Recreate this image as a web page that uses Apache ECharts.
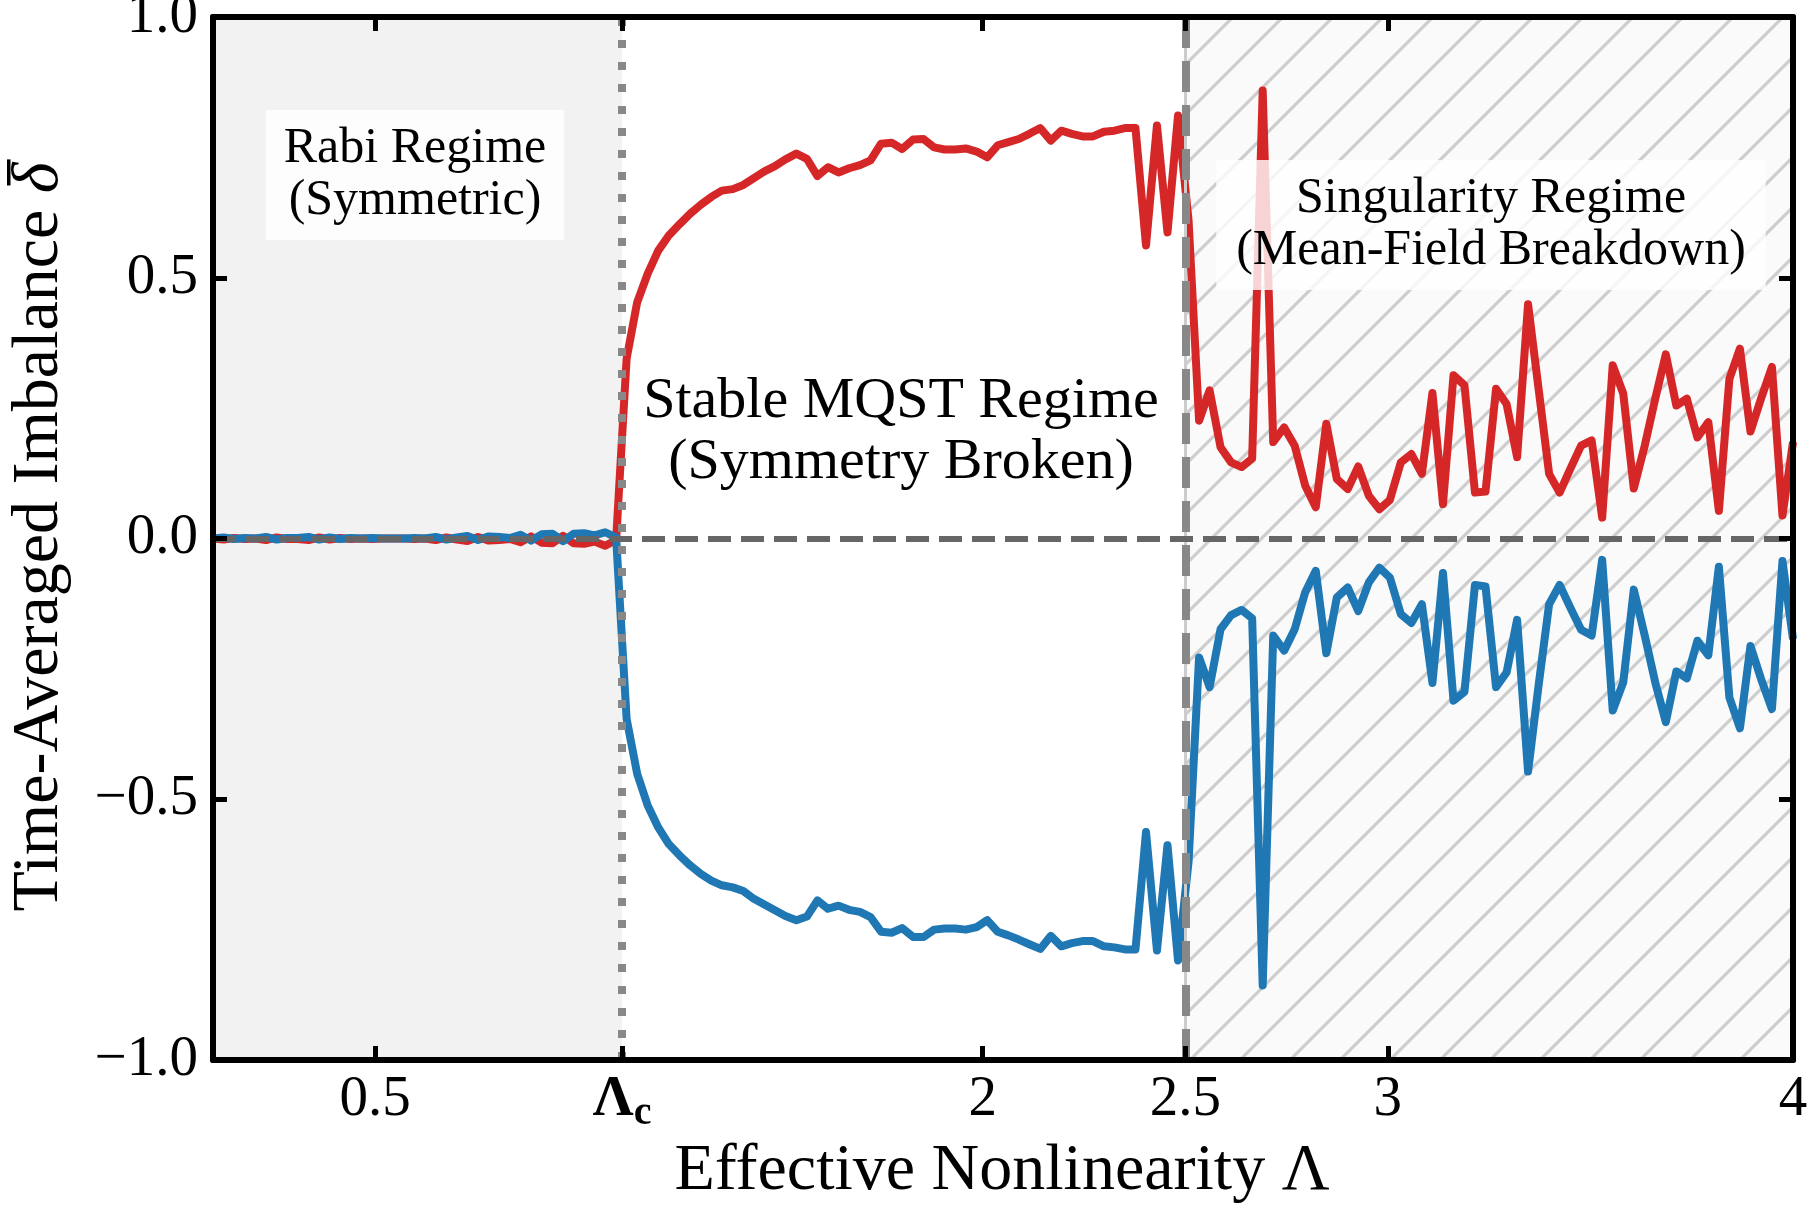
<!DOCTYPE html>
<html>
<head>
<meta charset="utf-8">
<title>Time-averaged imbalance vs effective nonlinearity</title>
<script src="https://cdn.jsdelivr.net/npm/echarts@6/dist/echarts.min.js"></script>
<style>
html, body { margin: 0; padding: 0; background: #fff; }
#chart { width: 1810px; height: 1208px; }
</style>
</head>
<body>
<div id="chart"></div>
<script>
// sample grid of the effective nonlinearity (150 points, 0.1 .. 4)
var lambdaValues = [
  0.100, 0.126, 0.152, 0.179, 0.205, 0.231, 0.257, 0.283, 0.309, 0.336,
  0.362, 0.388, 0.414, 0.440, 0.466, 0.493, 0.519, 0.545, 0.571, 0.597,
  0.623, 0.650, 0.676, 0.702, 0.728, 0.754, 0.781, 0.807, 0.833, 0.859,
  0.885, 0.911, 0.938, 0.964, 0.990, 1.016, 1.042, 1.068, 1.095, 1.121,
  1.147, 1.173, 1.199, 1.225, 1.252, 1.278, 1.304, 1.330, 1.356, 1.383,
  1.409, 1.435, 1.461, 1.487, 1.513, 1.540, 1.566, 1.592, 1.618, 1.644,
  1.670, 1.697, 1.723, 1.749, 1.775, 1.801, 1.828, 1.854, 1.880, 1.906,
  1.932, 1.958, 1.985, 2.011, 2.037, 2.063, 2.089, 2.115, 2.142, 2.168,
  2.194, 2.220, 2.246, 2.272, 2.299, 2.325, 2.351, 2.377, 2.403, 2.430,
  2.456, 2.482, 2.508, 2.534, 2.560, 2.587, 2.613, 2.639, 2.665, 2.691,
  2.717, 2.744, 2.770, 2.796, 2.822, 2.848, 2.874, 2.901, 2.927, 2.953,
  2.979, 3.005, 3.032, 3.058, 3.084, 3.110, 3.136, 3.162, 3.189, 3.215,
  3.241, 3.267, 3.293, 3.319, 3.346, 3.372, 3.398, 3.424, 3.450, 3.477,
  3.503, 3.529, 3.555, 3.581, 3.607, 3.634, 3.660, 3.686, 3.712, 3.738,
  3.764, 3.791, 3.817, 3.843, 3.869, 3.895, 3.921, 3.948, 3.974, 4.000
];

// positive branch (red)
var upperBranch = [
  0.000, -0.002, 0.001, -0.001, 0.000, -0.003, 0.002, -0.001, -0.001, -0.003,
  0.002, -0.002, 0.001, -0.001, 0.000, -0.001, 0.000, 0.000, 0.000, -0.001,
  0.000, -0.003, 0.002, -0.002, -0.005, 0.003, -0.004, -0.003, -0.001, -0.007,
  0.004, -0.008, -0.009, 0.005, -0.009, -0.010, -0.006, -0.014, -0.003, 0.345,
  0.453, 0.508, 0.552, 0.581, 0.603, 0.623, 0.640, 0.655, 0.667, 0.670,
  0.678, 0.691, 0.704, 0.714, 0.727, 0.738, 0.728, 0.695, 0.712, 0.702,
  0.710, 0.716, 0.725, 0.757, 0.759, 0.747, 0.765, 0.766, 0.750, 0.746,
  0.746, 0.748, 0.742, 0.731, 0.754, 0.760, 0.766, 0.776, 0.787, 0.763,
  0.782, 0.776, 0.771, 0.771, 0.780, 0.782, 0.787, 0.787, 0.562, 0.792,
  0.587, 0.811, 0.610, 0.226, 0.284, 0.175, 0.146, 0.137, 0.153, 0.859,
  0.185, 0.213, 0.178, 0.101, 0.060, 0.220, 0.114, 0.095, 0.138, 0.082,
  0.056, 0.074, 0.146, 0.162, 0.124, 0.279, 0.066, 0.313, 0.294, 0.088,
  0.090, 0.287, 0.258, 0.156, 0.449, 0.287, 0.124, 0.088, 0.133, 0.178,
  0.188, 0.040, 0.332, 0.278, 0.096, 0.178, 0.268, 0.353, 0.255, 0.268,
  0.194, 0.223, 0.053, 0.306, 0.364, 0.205, 0.268, 0.329, 0.044, 0.185
];

// negative branch (blue)
var lowerBranch = [
  0.000, 0.002, -0.001, 0.001, 0.000, 0.003, -0.002, 0.001, 0.001, 0.003,
  -0.002, 0.002, -0.001, 0.001, 0.000, 0.001, 0.000, 0.000, 0.000, 0.001,
  0.000, 0.003, -0.002, 0.002, 0.005, -0.003, 0.004, 0.003, 0.001, 0.007,
  -0.004, 0.008, 0.009, -0.005, 0.009, 0.010, 0.006, 0.012, 0.002, -0.346,
  -0.451, -0.512, -0.554, -0.586, -0.608, -0.627, -0.643, -0.656, -0.665, -0.669,
  -0.676, -0.691, -0.702, -0.713, -0.724, -0.732, -0.725, -0.694, -0.710, -0.704,
  -0.712, -0.716, -0.726, -0.754, -0.756, -0.747, -0.764, -0.764, -0.750, -0.748,
  -0.748, -0.750, -0.745, -0.732, -0.754, -0.761, -0.769, -0.778, -0.787, -0.762,
  -0.782, -0.776, -0.772, -0.772, -0.782, -0.784, -0.788, -0.788, -0.563, -0.790,
  -0.588, -0.809, -0.620, -0.228, -0.285, -0.174, -0.147, -0.137, -0.153, -0.857,
  -0.186, -0.215, -0.174, -0.103, -0.062, -0.220, -0.113, -0.094, -0.139, -0.084,
  -0.056, -0.075, -0.145, -0.162, -0.126, -0.277, -0.066, -0.311, -0.294, -0.089,
  -0.092, -0.285, -0.257, -0.156, -0.447, -0.282, -0.126, -0.089, -0.132, -0.175,
  -0.186, -0.041, -0.330, -0.276, -0.098, -0.186, -0.276, -0.352, -0.255, -0.268,
  -0.196, -0.224, -0.054, -0.305, -0.364, -0.206, -0.269, -0.327, -0.043, -0.193
];

var lambdaC = 1.11;
var singularStart = 2.5;
var xTicks = [0.5, lambdaC, 2, 2.5, 3, 4];
var yTickStep = 0.5;

var serif = '"Liberation Serif", "Times New Roman", serif';

function pairs(ys) {
  var out = [];
  for (var i = 0; i < lambdaValues.length; i++) out.push([lambdaValues[i], ys[i]]);
  return out;
}

function textWidth(str, font) {
  var ctx = document.createElement('canvas').getContext('2d');
  ctx.font = font;
  return ctx.measureText(str).width;
}

// diagonal hatch for the singularity band
function hatchTile() {
  var s = 50;
  var c = document.createElement('canvas');
  c.width = s; c.height = s;
  var g = c.getContext('2d');
  g.fillStyle = '#fafafa';
  g.fillRect(0, 0, s, s);
  g.strokeStyle = '#cdcdcd';
  g.lineWidth = 3.2;
  g.beginPath();
  g.moveTo(-s / 2, s / 2); g.lineTo(s / 2, -s / 2);
  g.moveTo(0, s); g.lineTo(s, 0);
  g.moveTo(s / 2, 1.5 * s); g.lineTo(1.5 * s, s / 2);
  g.stroke();
  return c;
}

// y title pieces: bar over the italic delta
var titleFont = '66px ' + serif;
var wTitle = textWidth('Time-Averaged Imbalance ', titleFont);
var wDelta = textWidth('\u03B4', 'italic ' + titleFont);
var deltaLeft = -(wTitle + wDelta) / 2 + wTitle;

var frame = { color: '#000', width: 6 };
var tickStyle = { color: '#000', width: 5 };
var numStyle = { fontSize: 57, fontFamily: serif, color: '#000', lineHeight: 57, verticalAlign: 'top' };

var myChart = echarts.init(document.getElementById('chart'));
var option = {
  animation: false,
  backgroundColor: '#fff',
  grid: { left: 213, right: 17, top: 17, bottom: 148, containLabel: false, outerBoundsMode: 'none' },
  xAxis: [{
    type: 'value', min: 0.1, max: 4, position: 'bottom', z: 10,
    axisLine: { show: true, onZero: false, lineStyle: frame },
    axisTick: { show: true, inside: true, length: 14, lineStyle: tickStyle, customValues: xTicks },
    axisLabel: {
      show: true, customValues: xTicks, margin: 12,
      formatter: function (v) {
        if (Math.abs(v - lambdaC) < 1e-6) return '{lam|\u039B}{sub|c}';
        return '{num|' + v + '}';
      },
      rich: {
        num: numStyle,
        lam: { fontSize: 57, fontFamily: serif, fontWeight: 'bold', color: '#000', lineHeight: 57, verticalAlign: 'top' },
        sub: { fontSize: 40, fontFamily: serif, fontWeight: 'bold', color: '#000', lineHeight: 40, verticalAlign: 'top', padding: [22, 0, 0, 0] }
      }
    },
    splitLine: { show: false }
  }, {
    type: 'value', min: 0.1, max: 4, position: 'top', z: 10,
    axisLine: { show: true, onZero: false, lineStyle: frame },
    axisTick: { show: true, inside: true, length: 14, lineStyle: tickStyle, customValues: xTicks },
    axisLabel: { show: false },
    splitLine: { show: false }
  }],
  yAxis: [{
    type: 'value', min: -1, max: 1, interval: yTickStep, position: 'left', z: 10,
    axisLine: { show: true, onZero: false, lineStyle: frame },
    axisTick: { show: true, inside: true, length: 14, lineStyle: tickStyle },
    axisLabel: {
      margin: 15, fontSize: 57, fontFamily: serif, color: '#000',
      formatter: function (v) { return v.toFixed(1).replace('-', '\u2212'); }
    },
    splitLine: { show: false }
  }, {
    type: 'value', min: -1, max: 1, interval: yTickStep, position: 'right', z: 10,
    axisLine: { show: true, onZero: false, lineStyle: frame },
    axisTick: { show: true, inside: true, length: 14, lineStyle: tickStyle },
    axisLabel: { show: false },
    splitLine: { show: false }
  }],
  series: [
    {
      // regime shading
      type: 'line', data: [], z: 1, silent: true,
      markArea: {
        silent: true,
        label: { show: false },
        data: [
          [{ xAxis: 0.1, itemStyle: { color: '#f2f2f2' } }, { xAxis: lambdaC }],
          [{ xAxis: singularStart, itemStyle: { color: { image: hatchTile(), repeat: 'repeat' } } }, { xAxis: 4 }]
        ]
      }
    },
    {
      // reference lines
      type: 'line', data: [], z: 2, silent: true,
      markLine: {
        silent: true, symbol: ['none', 'none'], label: { show: false },
        emphasis: { disabled: true },
        data: [
          { xAxis: singularStart, lineStyle: { color: '#cccccc', width: 3, type: 'solid' } },
          { xAxis: singularStart, lineStyle: { color: '#888888', width: 8, type: [31, 13] } },
          { xAxis: lambdaC, lineStyle: { color: '#888888', width: 8, type: [8, 14] } },
          { yAxis: 0, lineStyle: { color: '#666666', width: 6, type: [23, 10] } }
        ]
      }
    },
    {
      name: 'upper', type: 'line', data: pairs(upperBranch), z: 3,
      symbol: 'none', showSymbol: false,
      lineStyle: { color: '#d62728', width: 8, join: 'round' }
    },
    {
      name: 'lower', type: 'line', data: pairs(lowerBranch), z: 4,
      symbol: 'none', showSymbol: false,
      lineStyle: { color: '#1f77b4', width: 8, join: 'round' }
    }
  ],
  graphic: [
    {
      type: 'text', z: 20, x: 1002, y: 1172,
      style: { text: 'Effective Nonlinearity \u039B', font: titleFont, fill: '#000', align: 'center', verticalAlign: 'middle' }
    },
    {
      type: 'group', x: 40, y: 537, rotation: Math.PI / 2, z: 20,
      children: [
        {
          type: 'text', z: 20,
          style: {
            text: '{t|Time-Averaged Imbalance }{d|\u03B4}',
            rich: {
              t: { fontSize: 66, fontFamily: serif, fill: '#000' },
              d: { fontSize: 66, fontFamily: serif, fontStyle: 'italic', fill: '#000' }
            },
            align: 'center', verticalAlign: 'middle'
          }
        },
        {
          type: 'rect', z: 20,
          shape: { x: deltaLeft + 0.25 * wDelta, y: -33, width: 0.85 * wDelta, height: 3.5 },
          style: { fill: '#000' }
        }
      ]
    },
    {
      type: 'text', z: 20, x: 415, y: 175,
      style: {
        text: 'Rabi Regime\n(Symmetric)', font: '50px ' + serif, lineHeight: 52, fill: '#000',
        align: 'center', verticalAlign: 'middle',
        backgroundColor: 'rgba(255,255,255,0.8)', padding: [13, 18, 13, 18]
      }
    },
    {
      type: 'text', z: 20, x: 901, y: 432,
      style: {
        text: 'Stable MQST Regime\n(Symmetry Broken)', font: '58px ' + serif, lineHeight: 61, fill: '#000',
        align: 'center', verticalAlign: 'middle'
      }
    },
    {
      type: 'text', z: 20, x: 1491, y: 225,
      style: {
        text: 'Singularity Regime\n(Mean-Field Breakdown)', font: '50px ' + serif, lineHeight: 52, fill: '#000',
        align: 'center', verticalAlign: 'middle',
        backgroundColor: 'rgba(255,255,255,0.8)', padding: [13, 20, 13, 20]
      }
    }
  ]
};
myChart.setOption(option);
</script>
</body>
</html>
